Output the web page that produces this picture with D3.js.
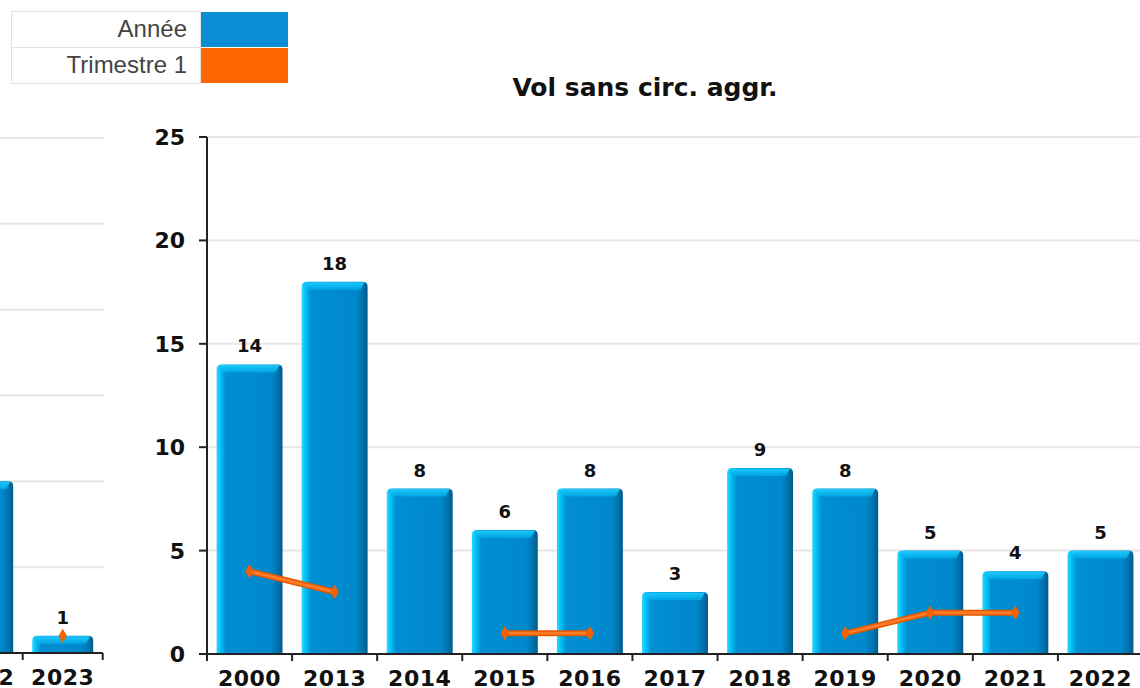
<!DOCTYPE html>
<html>
<head>
<meta charset="utf-8">
<script src="https://cdn.jsdelivr.net/npm/d3@7"></script>
<style>
  html, body { margin: 0; padding: 0; background: #fff; }
  svg { display: block; }
</style>
</head>
<body>
<svg id="chart" width="1140" height="688"></svg>
<script>
// ---- data ----
const title = "Vol sans circ. aggr.";
const seriesNames = ["Année", "Trimestre 1"];
const seriesColors = ["#0a8dd5", "#ff6600"];

// main chart
const categories = ["2000", "2013", "2014", "2015", "2016", "2017", "2018", "2019", "2020", "2021", "2022"];
const anneeValues = [14, 18, 8, 6, 8, 3, 9, 8, 5, 4, 5];
const trimestre1Values = [4, 3, null, 1, 1, null, null, 1, 2, 2, null];
const yTicks = [0, 5, 10, 15, 20, 25];

// partially visible neighbouring chart (left)
const leftCategories = ["2022", "2023"];
const leftAnneeValues = [10, 1];
const leftTrimestre1Values = [null, 1];
const leftYTicks = [0, 5, 10, 15, 20, 25, 30];

// ---- drawing ----
const svg = d3.select("#chart");
const defs = svg.append("defs");

const bodyGrad = defs.append("linearGradient").attr("id", "barBody")
  .attr("x1", "0").attr("x2", "1").attr("y1", "0").attr("y2", "0");
[[0, "#2fd6ff"], [0.06, "#00c2f8"], [0.14, "#008fd2"], [0.82, "#0088cc"], [0.92, "#0074ad"], [1, "#005c8a"]]
  .forEach(([o, c]) => bodyGrad.append("stop").attr("offset", o).attr("stop-color", c));

const capGrad = defs.append("linearGradient").attr("id", "barCap")
  .attr("x1", "0").attr("x2", "0").attr("y1", "0").attr("y2", "1");
[[0, "#1fd0ff"], [1, "#00a6e6"]]
  .forEach(([o, c]) => capGrad.append("stop").attr("offset", o).attr("stop-color", c));

const FONT = "'DejaVu Sans', sans-serif";
const AXIS = "#222";
const GRID = "#e6e6e6";

function drawBar(g, x0, y0, w, yBase) {
  const h = yBase - y0;
  const r = Math.min(5, h / 2);
  const p = d3.path();
  p.moveTo(x0, yBase);
  p.lineTo(x0, y0 + r);
  p.quadraticCurveTo(x0, y0, x0 + r, y0);
  p.lineTo(x0 + w - r, y0);
  p.quadraticCurveTo(x0 + w, y0, x0 + w, y0 + r);
  p.lineTo(x0 + w, yBase);
  p.closePath();
  g.append("path").attr("d", p.toString()).attr("fill", "url(#barBody)");
  const capH = Math.min(8, h);
  const inset = Math.min(7, w / 4);
  const c = d3.path();
  c.moveTo(x0 + r * 0.6, y0 + 0.5);
  c.lineTo(x0 + w - r * 0.6, y0 + 0.5);
  c.lineTo(x0 + w - inset, y0 + capH);
  c.lineTo(x0 + inset, y0 + capH);
  c.closePath();
  g.append("path").attr("d", c.toString()).attr("fill", "url(#barCap)").attr("opacity", 0.9);
}

function drawPanel(opts) {
  const { cats, vals, trims, ticks, xRange, yRange, yMax, padIn, padOut, gridX, showYAxis, yAxisX } = opts;
  const g = svg.append("g");
  const x = d3.scaleBand().domain(cats).range(xRange).paddingInner(padIn).paddingOuter(padOut);
  const y = d3.scaleLinear().domain([0, yMax]).range(yRange);
  const step = x.step();
  const xStart = xRange[0];

  // grid
  g.selectAll("line.grid").data(ticks.filter(t => t > 0)).join("line")
    .attr("x1", gridX[0]).attr("x2", gridX[1])
    .attr("y1", d => y(d)).attr("y2", d => y(d))
    .attr("stroke", GRID).attr("stroke-width", 2);

  // bars
  cats.forEach((c, i) => {
    drawBar(g, x(c), y(vals[i]), x.bandwidth(), y(0));
  });

  // value labels
  g.selectAll("text.val").data(cats).join("text")
    .attr("x", d => x(d) + x.bandwidth() / 2)
    .attr("y", (d, i) => y(vals[i]) - 12)
    .attr("text-anchor", "middle")
    .attr("font-family", FONT).attr("font-weight", "bold").attr("font-size", 18)
    .attr("fill", "#111")
    .text((d, i) => vals[i]);

  // x axis line + ticks at band boundaries
  g.append("line").attr("x1", xRange[0]).attr("x2", xRange[1])
    .attr("y1", y(0)).attr("y2", y(0)).attr("stroke", AXIS).attr("stroke-width", 2);
  const bounds = d3.range(cats.length + 1).map(i => xStart + i * step);
  g.selectAll("line.xt").data(bounds).join("line")
    .attr("x1", d => d).attr("x2", d => d)
    .attr("y1", y(0)).attr("y2", y(0) + 7)
    .attr("stroke", AXIS).attr("stroke-width", 2);
  g.selectAll("text.xl").data(cats).join("text")
    .attr("x", d => x(d) + x.bandwidth() / 2)
    .attr("y", y(0) + 32)
    .attr("text-anchor", "middle")
    .attr("font-family", FONT).attr("font-weight", "bold").attr("font-size", 22)
    .attr("letter-spacing", 0.5)
    .attr("fill", "#111")
    .text(d => d);

  if (showYAxis) {
    g.append("line").attr("x1", yAxisX).attr("x2", yAxisX)
      .attr("y1", y(yMax)).attr("y2", y(0) + 7)
      .attr("stroke", AXIS).attr("stroke-width", 2);
    g.selectAll("line.yt").data(ticks).join("line")
      .attr("x1", yAxisX - 8).attr("x2", yAxisX)
      .attr("y1", d => y(d)).attr("y2", d => y(d))
      .attr("stroke", AXIS).attr("stroke-width", 2);
    g.selectAll("text.yl").data(ticks).join("text")
      .attr("x", yAxisX - 22)
      .attr("y", d => y(d) + 8)
      .attr("text-anchor", "end")
      .attr("font-family", FONT).attr("font-weight", "bold").attr("font-size", 22)
      .attr("fill", "#111")
      .text(d => d);
  }

  // Trimestre 1 line
  const pts = cats.map((c, i) => ({ c, v: trims[i] }));
  const line = d3.line()
    .defined(d => d.v != null)
    .x(d => x(d.c) + x.bandwidth() / 2)
    .y(d => y(d.v));
  g.append("path").attr("d", line(pts)).attr("fill", "none")
    .attr("stroke", "#e05800").attr("stroke-width", 6).attr("stroke-linecap", "round");
  g.append("path").attr("d", line(pts)).attr("fill", "none")
    .attr("stroke", "#ff7a26").attr("stroke-width", 3).attr("stroke-linecap", "round");
  const sym = d3.symbol().type(d3.symbolDiamond).size(60);
  g.selectAll("path.pt").data(pts.filter(d => d.v != null)).join("path")
    .attr("d", sym)
    .attr("transform", d => `translate(${x(d.c) + x.bandwidth() / 2},${y(d.v)})`)
    .attr("fill", "#f26200");
}

// left (cut-off) panel
drawPanel({
  cats: leftCategories, vals: leftAnneeValues, trims: leftTrimestre1Values, ticks: leftYTicks,
  xRange: [-57.3, 102.7], yRange: [653, 138], yMax: 30,
  padIn: 0.2375, padOut: 0.11875, gridX: [0, 104], showYAxis: false
});

// main panel
drawPanel({
  cats: categories, vals: anneeValues, trims: trimestre1Values, ticks: yTicks,
  xRange: [207, 1143], yRange: [654, 137], yMax: 25,
  padIn: 0.225, padOut: 0.1125, gridX: [207, 1140], showYAxis: true, yAxisX: 207
});

// title
svg.append("text").attr("x", 645).attr("y", 96)
  .attr("text-anchor", "middle")
  .attr("font-family", FONT).attr("font-weight", "bold").attr("font-size", 25)
  .attr("fill", "#111").text(title);

// legend table
const lg = svg.append("g");
const rowH = 36, lx = 11, ly = 11, textW = 189, swW = 88;
seriesNames.forEach((n, i) => {
  const yy = ly + i * rowH;
  lg.append("rect").attr("x", lx + 0.5).attr("y", yy + 0.5).attr("width", textW).attr("height", rowH)
    .attr("fill", "#fff").attr("stroke", "#e3e3e3");
  lg.append("rect").attr("x", lx + textW + 1).attr("y", yy + 1).attr("width", swW - 1).attr("height", rowH - 1)
    .attr("fill", seriesColors[i]);
  lg.append("text").attr("x", lx + textW - 13).attr("y", yy + rowH / 2 + 8)
    .attr("text-anchor", "end")
    .attr("font-family", "'Liberation Sans', Arial, sans-serif").attr("font-size", 24)
    .attr("fill", "#444").text(n);
});
</script>
</body>
</html>
